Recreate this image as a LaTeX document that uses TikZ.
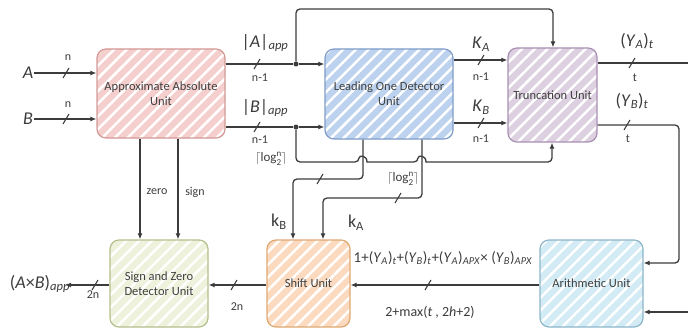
\documentclass[tikz,border=0pt]{standalone}
\usepackage{fontspec}
\setmainfont{Carlito}
\usetikzlibrary{arrows.meta,patterns.meta,calc}
\definecolor{ln}{HTML}{3C3C3C}
\definecolor{txt}{HTML}{404040}
\definecolor{aauF}{HTML}{F5CFCD}\definecolor{aauD}{HTML}{D29996}
\definecolor{lodF}{HTML}{BCD2EE}\definecolor{lodD}{HTML}{7F9DC8}
\definecolor{trF}{HTML}{DDD0E0}\definecolor{trD}{HTML}{A890B2}
\definecolor{szF}{HTML}{EEF2DC}\definecolor{szD}{HTML}{B3BF8C}
\definecolor{shF}{HTML}{FBDABF}\definecolor{shD}{HTML}{DFA872}
\definecolor{arF}{HTML}{D3EBF4}\definecolor{arD}{HTML}{8DB6CA}
\newcommand\ii[1]{\textit{#1}}
\newcommand\sbi[1]{\textsubscript{\textit{#1}}}
\newcommand\lgn{$\lceil$log\raisebox{-4pt}{\fontsize{9}{8.5}\selectfont\shortstack{n\\2}}$\rceil$}
\tikzset{
  box/.style 2 args={preaction={fill=#1},
    preaction={pattern={Lines[angle=45,distance=9pt,line width=2.5pt]},pattern color=white,fill opacity=0.22},
    draw=#2, line width=1.2pt, rounded corners=9pt, inner sep=2pt, align=center, text=txt,
    font=\fontsize{12.5}{15}\selectfont},
  arr/.style={draw=ln, line width=1.3pt, rounded corners=4pt, -{Latex[length=6pt,width=5pt]}},
  wire/.style={draw=ln, line width=1.3pt, rounded corners=4pt},
  slashst/.style={draw=ln, line width=1.1pt},
  big/.style={text=ln, inner sep=1pt, font=\fontsize{18}{20}\selectfont},
  sml/.style={text=ln, inner sep=1pt, font=\fontsize{12}{14}\selectfont},
  dot/.style={circle, fill=ln, inner sep=0pt, minimum size=5pt}
}
\begin{document}
\begin{tikzpicture}[x=1pt,y=-1pt]
\useasboundingbox (0,0) rectangle (688,329);
% boxes
\node[box={aauF}{aauD}, minimum width=128pt, minimum height=89pt] (aau) at (161,93.5) {Approximate Absolute\\Unit};
\node[box={lodF}{lodD}, minimum width=128pt, minimum height=90pt] (lod) at (389,94) {Leading One Detector\\Unit};
\node[box={trF}{trD}, minimum width=89pt, minimum height=94pt] (tr) at (552.5,95) {Truncation Unit};
\node[box={szF}{szD}, minimum width=98pt, minimum height=87pt] (szd) at (159,283.5) {Sign and Zero\\Detector Unit};
\node[box={shF}{shD}, minimum width=83pt, minimum height=87pt] (sh) at (308.5,283.5) {Shift Unit};
\node[box={arF}{arD}, minimum width=103pt, minimum height=87pt] (ar) at (591.5,283.5) {Arithmetic Unit};
% helper coordinates
\coordinate (yA) at (0,64); \coordinate (yB) at (0,127);
\coordinate (yKA) at (0,60); \coordinate (yKB) at (0,123);
\coordinate (yYA) at (0,63); \coordinate (yYB) at (0,125);
\coordinate (yS) at (0,285);
\node[dot] (jA) at (296,64) {};
\node[dot] (jB) at (296,127) {};
\coordinate (t1) at (296,9); \coordinate (t2) at (553,9);
\coordinate (b1) at (296,162); \coordinate (b2) at (552,162);
\coordinate (xz) at (140,0); \coordinate (xs) at (178,0);
\coordinate (xL1) at (363,0); \coordinate (xL2) at (422,0);
\coordinate (kb1) at (363,179); \coordinate (kb2) at (293,179);
\coordinate (ka1) at (422,198); \coordinate (ka2) at (323,198);
\coordinate (rYA) at (688,63);
\coordinate (r1) at (679,125); \coordinate (r2) at (679,263);
\coordinate (r3) at (688,312);
\coordinate (outE) at (65,285);
% inputs
\node[big] (A) at (28,73) {\ii{A}};
\node[big] (B) at (28,119) {\ii{B}};
\draw[arr] (A.east) -- (aau.west |- A.east);
\draw[arr] (B.east) -- (aau.west |- B.east);
\draw[slashst] (66,73) +(-3,5) -- +(3,-5);
\draw[slashst] (66,119) +(-3,5) -- +(3,-5);
\node[sml] at (68,58) {n};
\node[sml] at (68,105) {n};
% AAU -> LOD
\draw[wire] (aau.east |- yA) -- (jA);
\draw[arr] (jA) -- (lod.west |- yA);
\draw[wire] (aau.east |- yB) -- (jB);
\draw[arr] (jB) -- (lod.west |- yB);
\draw[slashst] (257,64) +(-3,5) -- +(3,-5);
\draw[slashst] (257,127) +(-3,5) -- +(3,-5);
\node[big] at (265,43) {|\ii{A}|\sbi{app}};
\node[big] at (265,108) {|\ii{B}|\sbi{app}};
\node[sml] at (260,78) {n-1};
\node[sml] at (260,140) {n-1};
% feedback to truncation
\draw[arr] (jA) -- (t1) -- (t2) -- (tr.north -| t2);
\draw[arr] (jB) -- (b1) -- (359,162) [sharp corners] .. controls (359,155) and (367,155) .. (367,162) [rounded corners=4pt]
  -- (418,162) [sharp corners] .. controls (418,155) and (426,155) .. (426,162) [rounded corners=4pt]
  -- (b2) -- (tr.south -| b2);
\node[sml, font=\fontsize{13}{15}\selectfont] at (271,159) {\lgn};
% LOD -> Truncation
\draw[arr] (lod.east |- yKA) -- (tr.west |- yKA);
\draw[arr] (lod.east |- yKB) -- (tr.west |- yKB);
\draw[slashst] (481,60) +(-3,5) -- +(3,-5);
\draw[slashst] (481,123) +(-3,5) -- +(3,-5);
\node[big] at (481,44) {\ii{K}\sbi{A}};
\node[big] at (481,107) {\ii{K}\sbi{B}};
\node[sml] at (481,77) {n-1};
\node[sml] at (481,139) {n-1};
% LOD -> Shift
\draw[arr] (lod.south -| xL1) -- (kb1) -- (kb2) -- (sh.north -| kb2);
\draw[arr] (lod.south -| xL2) -- (ka1) -- (ka2) -- (sh.north -| ka2);
\draw[slashst] (320,179) +(-3,5) -- +(3,-5);
\draw[slashst] (398,198) +(-3,5) -- +(3,-5);
\node[sml, font=\fontsize{13}{15}\selectfont] at (403,179) {\lgn};
\node[big] at (279,222) {k\textsubscript{B}};
\node[big] at (356,223) {k\textsubscript{A}};
% Truncation outputs
\draw[wire] (tr.east |- yYA) -- (rYA);
\draw[arr] (tr.east |- yYB) -- (r1) -- (r2) -- (ar.east |- r2);
\draw[arr] (r3) -- (ar.east |- r3);
\draw[slashst] (632,63) +(-3,5) -- +(3,-5);
\draw[slashst] (627,125) +(-3,5) -- +(3,-5);
\node[big] at (637,41) {(\ii{Y}\sbi{A})\sbi{t}};
\node[big] at (632,101) {(\ii{Y}\sbi{B})\sbi{t}};
\node[sml] at (635,78) {t};
\node[sml] at (628,139) {t};
% zero / sign
\draw[arr] (aau.south -| xz) -- (szd.north -| xz);
\draw[arr] (aau.south -| xs) -- (szd.north -| xs);
\node[sml] at (157,192) {zero};
\node[sml] at (195,192) {sign};
% Arithmetic -> Shift -> SZD -> out
\draw[arr] (ar.west |- yS) -- (sh.east |- yS);
\draw[slashst] (428,285) +(-3,5) -- +(3,-5);
\node[sml, font=\fontsize{15}{17}\selectfont] at (443,258) {1+(\ii{Y}\sbi{A})\sbi{t}+(\ii{Y}\sbi{B})\sbi{t}+(\ii{Y}\sbi{A})\sbi{APX}× (\ii{Y}\sbi{B})\sbi{APX}};
\node[sml, font=\fontsize{14}{16}\selectfont] at (430,312) {2+max(\ii{t} , 2\ii{h}+2)};
\draw[arr] (sh.west |- yS) -- (szd.east |- yS);
\draw[slashst] (234,285) +(-3,5) -- +(3,-5);
\node[sml] at (237,307) {2n};
\draw[arr] (szd.west |- yS) -- (outE);
\draw[slashst] (95,285) +(-3,5) -- +(3,-5);
\node[sml] at (93,295) {2n};
\node[big] at (40,284) {(\ii{A}×\ii{B})\sbi{app}};
\end{tikzpicture}
\end{document}
